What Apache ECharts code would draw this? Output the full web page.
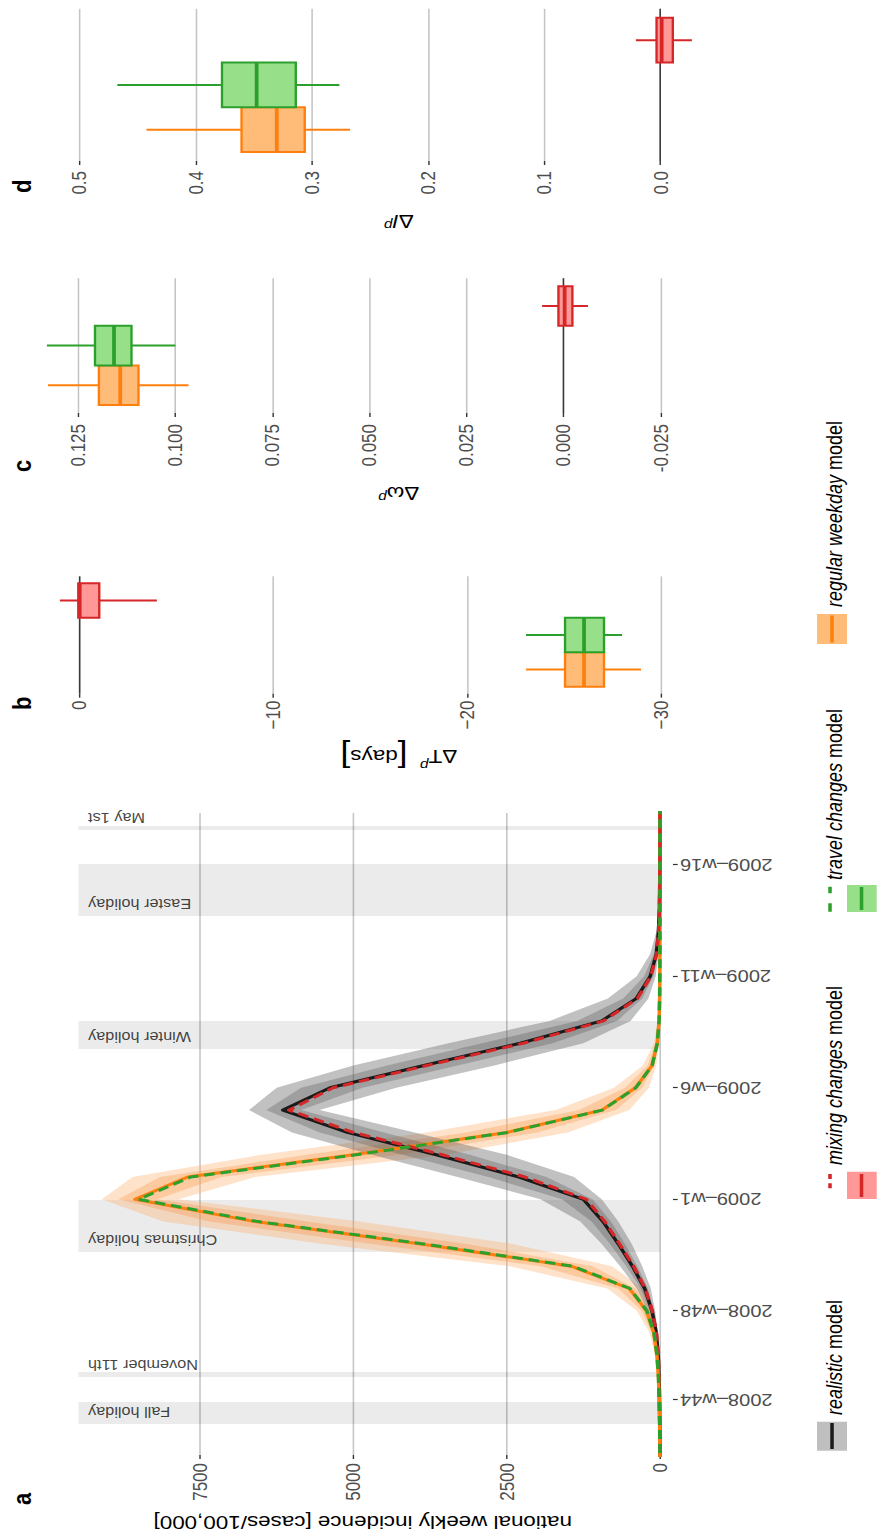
<!DOCTYPE html>
<html>
<head>
<meta charset="utf-8">
<script src="https://cdn.jsdelivr.net/npm/echarts@6/dist/echarts.min.js"></script>
<style>
  html, body { margin: 0; padding: 0; width: 877px; height: 1540px; overflow: hidden; background: #fff; }
  /* the figure is laid out landscape and turned a quarter turn counter-clockwise */
  #frame { position: absolute; left: 0; top: 0; width: 1540px; height: 743.22px;
           transform-origin: 0 0; transform: translate(0, 1540px) rotate(-90deg) scale(1, 1.18); }
  #chart { width: 1540px; height: 743.22px; }
</style>
</head>
<body>
<div id="frame"><div id="chart"></div></div>
<script>
// ---------- panel a: weekly incidence ----------
const weeks = [-3, -2, -1, 0, 1, 2, 3, 4, 5, 6, 7, 8, 9, 10, 11, 12, 13, 14, 15, 16, 17, 18, 19, 20, 21, 22, 23, 24, 25, 26, 27];
const weekTicks = [0, 4, 9, 14, 19, 24];
const weekLabels = ['2008\u2013w44', '2008\u2013w48', '2009\u2013w1', '2009\u2013w6', '2009\u2013w11', '2009\u2013w16'];
const incidenceTicks = [0, 2500, 5000, 7500];

const realistic     = [1, 2, 4, 8, 15, 30, 60, 130, 250, 450, 680, 930, 1250, 2300, 3650, 5100, 6150, 5380, 3850, 2280, 950, 390, 160, 60, 25, 10, 5, 2, 1, 1, 0];
const realOuterLo   = [0, 1, 2, 4, 8, 16, 35, 80, 150, 290, 460, 680, 950, 1400, 2500, 4000, 5550, 4300, 2700, 1250, 480, 190, 70, 25, 9, 4, 2, 1, 0, 0, 0];
const realOuterHi   = [2, 4, 7, 14, 26, 50, 100, 200, 380, 650, 950, 1300, 1950, 3300, 4700, 6000, 6700, 6250, 5000, 3450, 1800, 850, 380, 160, 60, 24, 10, 4, 2, 1, 1];
const realInnerLo   = [1, 1, 3, 6, 12, 23, 48, 105, 200, 370, 570, 800, 1100, 1850, 3100, 4500, 5850, 4850, 3300, 1750, 700, 290, 110, 40, 16, 6, 3, 1, 1, 0, 0];
const realInnerHi   = [1, 3, 5, 11, 20, 40, 80, 165, 315, 550, 815, 1115, 1600, 2800, 4200, 5550, 6420, 5850, 4450, 2900, 1350, 600, 260, 100, 40, 16, 7, 3, 1, 1, 1];
const mixing        = [1, 2, 4, 8, 14, 28, 58, 125, 240, 430, 660, 900, 1200, 2200, 3550, 5000, 6050, 5330, 3800, 2230, 920, 370, 150, 55, 22, 9, 4, 2, 1, 1, 0];
const regular       = [1, 3, 6, 12, 25, 50, 100, 220, 500, 1450, 3900, 6600, 8560, 7700, 5000, 2500, 950, 400, 130, 45, 15, 6, 3, 1, 1, 0, 0, 0, 0, 0, 0];
const regOuterLo    = [0, 1, 3, 6, 12, 25, 55, 120, 290, 780, 2400, 4900, 7850, 6600, 3500, 1500, 500, 180, 60, 18, 5, 2, 1, 0, 0, 0, 0, 0, 0, 0, 0];
const regOuterHi    = [2, 5, 10, 20, 40, 80, 170, 380, 860, 2450, 5500, 8100, 9100, 8600, 6500, 3800, 1700, 750, 280, 100, 38, 15, 6, 3, 2, 1, 0, 0, 0, 0, 0];
const regInnerLo    = [1, 2, 4, 9, 18, 37, 77, 170, 400, 1100, 3150, 5750, 8200, 7150, 4250, 2000, 720, 290, 95, 30, 10, 4, 2, 0, 0, 0, 0, 0, 0, 0, 0];
const regInnerHi    = [1, 4, 8, 16, 32, 65, 135, 300, 680, 1950, 4700, 7350, 8830, 8150, 5750, 3150, 1320, 570, 200, 70, 26, 10, 4, 2, 1, 0, 0, 0, 0, 0, 0];
const travel        = [1, 3, 6, 12, 24, 48, 98, 215, 490, 1420, 3850, 6550, 8500, 7650, 4950, 2480, 940, 395, 128, 44, 15, 6, 3, 1, 1, 0, 0, 0, 0, 0, 0];

// holidays, in weeks after 2008-w44
const holidayNames = ['Fall holiday', 'November 11th', 'Christmas holiday', 'Winter holiday', 'Easter holiday', 'May 1st'];
const holidayStart = [-1.08, 1.03, 6.64, 15.74, 21.70, 25.56];
const holidayEnd   = [-0.09, 1.26, 8.97, 17.00, 24.04, 25.74];

// ---------- panels b-d: differences to the realistic model ----------
// position 0 = regular weekday, 1 = travel changes, 2 = mixing changes
// each row: [position, lower whisker, Q1, median, Q3, upper whisker]
const boxModels = ['regular weekday', 'travel changes', 'mixing changes'];
const peakTimeDiff = [
  [0, -28.97, -27.06, -26.03, -25.05, -23.04],
  [1, -27.99, -27.06, -26.03, -25.05, -23.04],
  [2, -4.00, -1.03, -0.02, 0.05, 1.00]
];
const peakWidthDiff = [
  [0, 0.0966, 0.1095, 0.1142, 0.1197, 0.1328],
  [1, 0.1000, 0.1113, 0.1158, 0.1207, 0.1331],
  [2, -0.0063, -0.0023, -0.0003, 0.0013, 0.0055]
];
const peakIncDiff = [
  [0, 0.2671, 0.3061, 0.3302, 0.3605, 0.4423],
  [1, 0.2763, 0.3138, 0.3475, 0.3773, 0.4674],
  [2, -0.0270, -0.0106, -0.0010, 0.0034, 0.0212]
];
const tickB = [0, -10, -20, -30];
const tickC = [0.125, 0.1, 0.075, 0.05, 0.025, 0, -0.025];
const tickD = [0.5, 0.4, 0.3, 0.2, 0.1, 0];

// ---------- styling ----------
const FONT = "'Liberation Sans', Arial, Helvetica, sans-serif";
const boxStyles = [
  { fill: '#ffbb78', stroke: '#ff7f0e' },
  { fill: '#98df8a', stroke: '#2ca02c' },
  { fill: '#ff9896', stroke: '#d62728' }
];
const INC_MIN = -211, INC_MAX = 9481;
const HOLIDAY_LABEL_Y = 9325;
const HOLIDAY_LABEL_SHIFT = 0.54;

const pairs = (xs, ys) => xs.map((x, i) => [x, ys[i]]);

// uncertainty ribbon: one polygon through the upper values and back along the lower ones
function bandSeries(name, lo, hi, color) {
  return { name: name, type: 'custom', xAxisIndex: 0, yAxisIndex: 0, clip: true, silent: true, z: 2,
    data: weeks.map((t, i) => [t, lo[i], hi[i]]), encode: { x: 0, y: [1, 2] },
    renderItem: (params, api) => {
      if (params.dataIndex !== 0) return null;
      const upper = weeks.map((t, i) => api.coord([t, hi[i]]));
      const lower = weeks.map((t, i) => api.coord([t, lo[i]])).reverse();
      return { type: 'polygon', shape: { points: upper.concat(lower) }, style: { fill: color } };
    } };
}
function lineSeries(name, values, color, dashed, z) {
  return { name: name, type: 'line', xAxisIndex: 0, yAxisIndex: 0, data: pairs(weeks, values),
    symbol: 'none', silent: true, z: z,
    lineStyle: { color: color, width: 3, type: dashed ? [9, 5] : 'solid', cap: 'butt', join: 'round' } };
}
function renderBox(params, api) {
  const pos = api.value(0);
  const st = boxStyles[pos];
  const lo = api.coord([pos, api.value(1)]);
  const q1 = api.coord([pos, api.value(2)]);
  const md = api.coord([pos, api.value(3)]);
  const q3 = api.coord([pos, api.value(4)]);
  const hi = api.coord([pos, api.value(5)]);
  const w = api.size([1, 0])[0];
  return { type: 'group', children: [
    { type: 'line', shape: { x1: lo[0], y1: lo[1], x2: hi[0], y2: hi[1] }, style: { stroke: st.stroke, lineWidth: 2 } },
    { type: 'rect', shape: { x: q3[0] - w / 2, y: q3[1], width: w, height: q1[1] - q3[1] },
      style: { fill: st.fill, stroke: st.stroke, lineWidth: 2 } },
    { type: 'line', shape: { x1: md[0] - w / 2, y1: md[1], x2: md[0] + w / 2, y2: md[1] },
      style: { stroke: st.stroke, lineWidth: 3.2 } }
  ] };
}
function boxSeries(idx, data) {
  return { type: 'custom', xAxisIndex: idx, yAxisIndex: idx, data: data, renderItem: renderBox,
    encode: { x: 0, y: [1, 2, 3, 4, 5] }, silent: true, z: 4,
    markLine: { silent: true, symbol: ['none', 'none'], label: { show: false }, z: 3,
      lineStyle: { color: '#3a3a3a', width: 1.3, type: 'solid' }, data: [{ yAxis: 0 }] } };
}

const tickLabelStyle = { fontSize: 17, color: '#4d4d4d', fontFamily: FONT };
const gridLine = { show: true, lineStyle: { color: '#c4c4c4', width: 1.3 } };
const tickStyle = { lineStyle: { color: '#333', width: 1.2 }, length: 4 };
const superRich = {
  n: { fontSize: 19, fontFamily: FONT, color: '#000' },
  i: { fontSize: 19, fontFamily: FONT, fontStyle: 'italic', color: '#000' },
  s: { fontSize: 13, fontFamily: FONT, fontStyle: 'italic', color: '#000', verticalAlign: 'top', padding: [0, 0, 8, 0] },
  b: { fontSize: 30, fontFamily: FONT, color: '#000' }
};

function boxYAxis(idx, min, max, ticks, fmt, name, gap, margin) {
  return { gridIndex: idx, type: 'value', min: min, max: max,
    axisLine: { show: false, onZero: false },
    axisTick: Object.assign({ show: true, customValues: ticks }, tickStyle),
    axisLabel: Object.assign({ customValues: ticks, formatter: fmt, margin: margin }, tickLabelStyle),
    splitLine: gridLine,
    name: name, nameLocation: 'middle', nameRotate: 90, nameGap: gap,
    nameTextStyle: { fontSize: 19, color: '#000', fontFamily: FONT, rich: superRich } };
}

const chart = echarts.init(document.getElementById('chart'), null, { renderer: 'svg', width: 1540, height: 743.22 });

const legendText = { fontSize: 18, fontFamily: FONT, fill: '#000',
  rich: { i: { fontSize: 18, fontFamily: FONT, fontStyle: 'italic', fill: '#000' } } };
function legendLabel(x, text) {
  return { type: 'text', x: x, y: 706.8, style: Object.assign({ text: text, verticalAlign: 'middle', align: 'left' }, legendText) };
}
function letter(x, t) {
  return { type: 'text', x: x, y: 18.9, style: { text: t, fontSize: 22, fontWeight: 'bold', fontFamily: FONT, fill: '#000', verticalAlign: 'middle', align: 'left' } };
}

const option = {
  animation: false,
  textStyle: { fontFamily: FONT },
  grid: [
    { left: 85, top: 66.5, width: 642, height: 503.8, containLabel: false, outerBoundsMode: 'none' },
    { left: 846.35, top: 36, width: 117.3, height: 604, containLabel: false, outerBoundsMode: 'none' },
    { left: 1127, top: 36, width: 134.8, height: 604, containLabel: false, outerBoundsMode: 'none' },
    { left: 1379, top: 36, width: 152.2, height: 604, containLabel: false, outerBoundsMode: 'none' }
  ],
  xAxis: [
    { gridIndex: 0, type: 'value', min: -2.466, max: 26.323,
      axisLine: { show: false, onZero: false }, splitLine: { show: false },
      axisTick: Object.assign({ show: true, customValues: weekTicks }, tickStyle),
      axisLabel: Object.assign({ customValues: weekTicks, rotate: 90, margin: 6, padding: [17, 0, 0, 0],
        formatter: v => weekLabels[weekTicks.indexOf(Math.round(v))] }, tickLabelStyle) },
    { gridIndex: 1, type: 'value', min: -0.7, max: 2.7, show: false, axisLine: { onZero: false } },
    { gridIndex: 2, type: 'value', min: -0.7, max: 2.7, show: false, axisLine: { onZero: false } },
    { gridIndex: 3, type: 'value', min: -0.7, max: 2.7, show: false, axisLine: { onZero: false } }
  ],
  yAxis: [
    { gridIndex: 0, type: 'value', min: INC_MIN, max: INC_MAX,
      axisLine: { show: false, onZero: false },
      axisTick: Object.assign({ show: true, customValues: incidenceTicks }, tickStyle),
      axisLabel: Object.assign({ customValues: incidenceTicks, margin: 8, formatter: v => String(v) }, tickLabelStyle),
      splitLine: gridLine,
      name: 'national weekly incidence [cases/100,000]', nameLocation: 'middle', nameRotate: 90, nameGap: 58,
      nameTextStyle: { fontSize: 19, color: '#000', fontFamily: FONT, padding: [0, 0, 0, 22] } },
    boxYAxis(1, -34.857, 1.8986, tickB, v => (Math.round(v) === 0 ? '0' : '\u2212' + Math.abs(Math.round(v))),
      '{n|\u0394T}{s|p}{n|  }{b|[}{n|days}{b|]}', 48, 7),
    boxYAxis(2, -0.049397, 0.13423, tickC, v => v.toFixed(3), '{n|\u0394\u03c9}{s|p}', 70, 11),
    boxYAxis(3, -0.081479, 0.531769, tickD, v => v.toFixed(1), '{n|\u0394}{i|I}{s|p}', 50, 10)
  ],
  series: [
    { name: 'holidays', type: 'scatter', xAxisIndex: 0, yAxisIndex: 0, z: 1, silent: true,
      data: holidayStart.map((s, i) => ({ value: [s + HOLIDAY_LABEL_SHIFT, HOLIDAY_LABEL_Y], name: holidayNames[i] })),
      symbolSize: 1, itemStyle: { color: 'rgba(0,0,0,0)' },
      label: { show: true, position: 'inside', rotate: 90, align: 'right', verticalAlign: 'middle',
        formatter: p => p.name, fontSize: 13.8, fontFamily: FONT, color: '#111' },
      markArea: { silent: true, z: 0, itemStyle: { color: 'rgba(0,0,0,0.08)' }, label: { show: false },
        data: holidayStart.map((s, i) => [{ xAxis: s, yAxis: 0 }, { xAxis: holidayEnd[i], yAxis: INC_MAX }]) } },
    bandSeries('regular weekday 95%', regOuterLo, regOuterHi, 'rgba(253,174,107,0.36)'),
    bandSeries('regular weekday 50%', regInnerLo, regInnerHi, 'rgba(253,141,60,0.30)'),
    bandSeries('realistic 95%', realOuterLo, realOuterHi, 'rgba(100,100,100,0.40)'),
    bandSeries('realistic 50%', realInnerLo, realInnerHi, 'rgba(60,60,60,0.25)'),
    lineSeries('realistic model', realistic, '#1a1a1a', false, 5),
    lineSeries('regular weekday model', regular, '#ff7f0e', false, 5),
    lineSeries('mixing changes model', mixing, '#d62728', true, 6),
    lineSeries('travel changes model', travel, '#2ca02c', true, 6),
    boxSeries(1, peakTimeDiff),
    boxSeries(2, peakWidthDiff),
    boxSeries(3, peakIncDiff)
  ],
  graphic: [
    letter(35, 'a'), letter(830, 'b'), letter(1068, 'c'), letter(1347, 'd'),
    // legend: realistic
    { type: 'rect', shape: { x: 89.3, y: 692.4, width: 29, height: 25.4 }, style: { fill: '#bfbfbf' } },
    { type: 'line', shape: { x1: 91, y1: 705.1, x2: 117, y2: 705.1 }, style: { stroke: '#1a1a1a', lineWidth: 3 } },
    legendLabel(125, '{i|realistic} model'),
    // legend: mixing changes
    { type: 'line', shape: { x1: 351.7, y1: 703.4, x2: 368.3, y2: 703.4 }, style: { stroke: '#d62728', lineWidth: 3, lineDash: [5, 4.3] } },
    { type: 'rect', shape: { x: 341, y: 717.8, width: 27.3, height: 25.4 }, style: { fill: '#ff9896' } },
    { type: 'line', shape: { x1: 343, y1: 730.1, x2: 366, y2: 730.1 }, style: { stroke: '#d62728', lineWidth: 3 } },
    legendLabel(375, '{i|mixing changes} model'),
    // legend: travel changes
    { type: 'line', shape: { x1: 628.3, y1: 703.4, x2: 653.3, y2: 703.4 }, style: { stroke: '#2ca02c', lineWidth: 3, lineDash: [8.4, 10] } },
    { type: 'rect', shape: { x: 628, y: 717.8, width: 27, height: 25.4 }, style: { fill: '#98df8a' } },
    { type: 'line', shape: { x1: 630, y1: 730.1, x2: 653, y2: 730.1 }, style: { stroke: '#2ca02c', lineWidth: 3 } },
    legendLabel(660, '{i|travel changes} model'),
    // legend: regular weekday
    { type: 'rect', shape: { x: 896, y: 692.4, width: 30, height: 25.4 }, style: { fill: '#ffbb78' } },
    { type: 'line', shape: { x1: 897.5, y1: 705.1, x2: 924.5, y2: 705.1 }, style: { stroke: '#ff7f0e', lineWidth: 3 } },
    legendLabel(933, '{i|regular weekday} model')
  ]
};
chart.setOption(option);
</script>
</body>
</html>
